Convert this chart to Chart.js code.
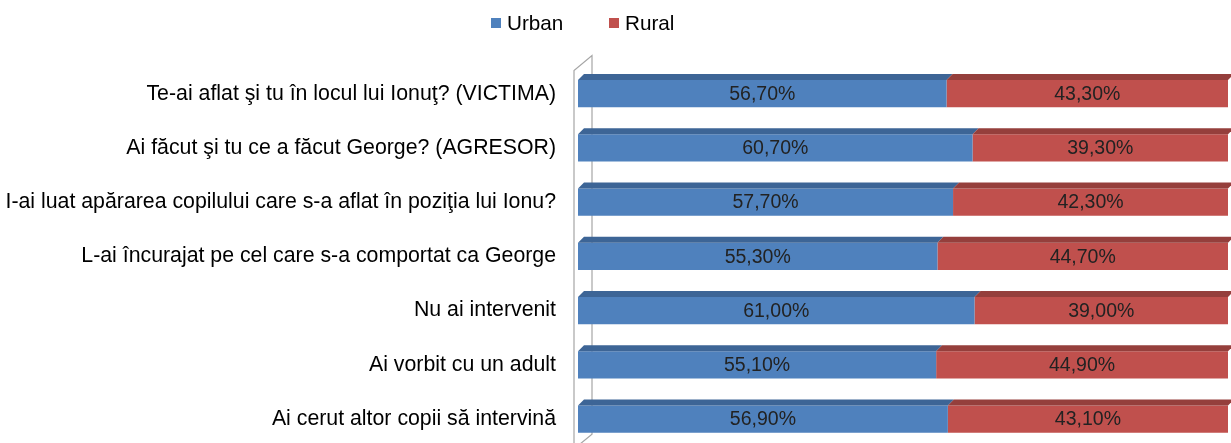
<!DOCTYPE html>
<html>
<head>
<meta charset="utf-8">
<script src="https://cdn.jsdelivr.net/npm/chart.js@4"></script>
<style>
    html, body { margin: 0; padding: 0; background: #fff; overflow: hidden; }
    canvas { display: block; }
</style>
</head>
<body>
<canvas id="grafic" width="1231" height="481"></canvas>
<script>
// Date
const categories = [
    'Te-ai aflat şi tu în locul lui Ionuţ? (VICTIMA)',
    'Ai făcut şi tu ce a făcut George? (AGRESOR)',
    'I-ai luat apărarea copilului care s-a aflat în poziţia lui Ionu?',
    'L-ai încurajat pe cel care s-a comportat ca George',
    'Nu ai intervenit',
    'Ai vorbit cu un adult',
    'Ai cerut altor copii să intervină'
];
const urban = [56.7, 60.7, 57.7, 55.3, 61.0, 55.1, 56.9];
const rural = [43.3, 39.3, 42.3, 44.7, 39.0, 44.9, 43.1];
const seriesNames = ['Urban', 'Rural'];

const frontColors = ['#4F81BD', '#C0504D'];
const topColors = ['#3D6596', '#953F3C'];
const labelFont = "'Liberation Sans', Arial, sans-serif";
const valueFont = "'Liberation Sans Narrow', 'Liberation Sans', Arial, sans-serif";

// perete lateral + podea
const wall3d = {
    id: 'wall3d',
    beforeDatasetsDraw(chart) {
        const { ctx, chartArea: { left, top, bottom } } = chart;
        const fx = left - 4, bx = left + 14;
        ctx.save();
        ctx.strokeStyle = '#A6A6A6';
        ctx.lineWidth = 1.2;
        ctx.beginPath();
        ctx.moveTo(fx, bottom + 10);
        ctx.lineTo(fx, top + 4);
        ctx.lineTo(bx, top - 11);
        ctx.lineTo(bx, bottom - 12);
        ctx.lineTo(fx - 4, bottom + 6);
        ctx.stroke();
        ctx.restore();
    }
};

// fata de sus a barelor + etichete
const bars3d = {
    id: 'bars3d',
    afterDatasetsDraw(chart) {
        const { ctx } = chart;
        const d = 6;
        ctx.save();
        chart.data.datasets.forEach((ds, i) => {
            const meta = chart.getDatasetMeta(i);
            meta.data.forEach((bar) => {
                const t = bar.y - bar.height / 2;
                ctx.beginPath();
                ctx.moveTo(bar.base, t);
                ctx.lineTo(bar.base + d, t - d);
                ctx.lineTo(bar.x + d, t - d);
                ctx.lineTo(bar.x, t);
                ctx.closePath();
                ctx.fillStyle = topColors[i];
                ctx.fill();
            });
        });
        ctx.font = '19.5px ' + valueFont;
        ctx.fillStyle = '#222';
        ctx.textAlign = 'center';
        ctx.textBaseline = 'middle';
        chart.data.datasets.forEach((ds, i) => {
            const meta = chart.getDatasetMeta(i);
            meta.data.forEach((bar, j) => {
                const txt = ds.data[j].toFixed(2).replace('.', ',') + '%';
                ctx.fillText(txt, (bar.x + bar.base) / 2, bar.y + 1);
            });
        });
        ctx.restore();
    }
};

// legenda
const legendaSus = {
    id: 'legendaSus',
    afterDraw(chart) {
        const { ctx } = chart;
        ctx.save();
        ctx.font = '20.7px ' + labelFont;
        ctx.textBaseline = 'middle';
        let x = 491;
        seriesNames.forEach((name, i) => {
            ctx.fillStyle = frontColors[i];
            ctx.fillRect(x, 18, 10, 10);
            ctx.fillStyle = '#000';
            ctx.fillText(name, x + 16, 24);
            x += 118;
        });
        ctx.restore();
    }
};

const el = document.getElementById('grafic');
new Chart(el, {
    type: 'bar',
    data: {
        labels: categories,
        datasets: [
            { label: seriesNames[0], data: urban, backgroundColor: frontColors[0], borderWidth: 0 },
            { label: seriesNames[1], data: rural, backgroundColor: frontColors[1], borderWidth: 0 }
        ]
    },
    options: {
        indexAxis: 'y',
        responsive: false,
        animation: false,
        devicePixelRatio: 1,
        layout: { padding: { top: 66.5, bottom: 15, left: 0, right: 3 } },
        datasets: { bar: { categoryPercentage: 0.5, barPercentage: 1 } },
        plugins: {
            legend: { display: false },
            tooltip: { enabled: false }
        },
        scales: {
            x: {
                stacked: true,
                min: 0,
                max: 100,
                display: false
            },
            y: {
                stacked: true,
                grid: { display: false, drawTicks: false },
                border: { display: false },
                ticks: {
                    color: '#000',
                    padding: 22,
                    font: { family: labelFont, size: 21.3 }
                },
                afterFit(scale) {
                    scale.width = 578; // latimea zonei cu etichete
                }
            }
        }
    },
    plugins: [wall3d, bars3d, legendaSus]
});
</script>
</body>
</html>
